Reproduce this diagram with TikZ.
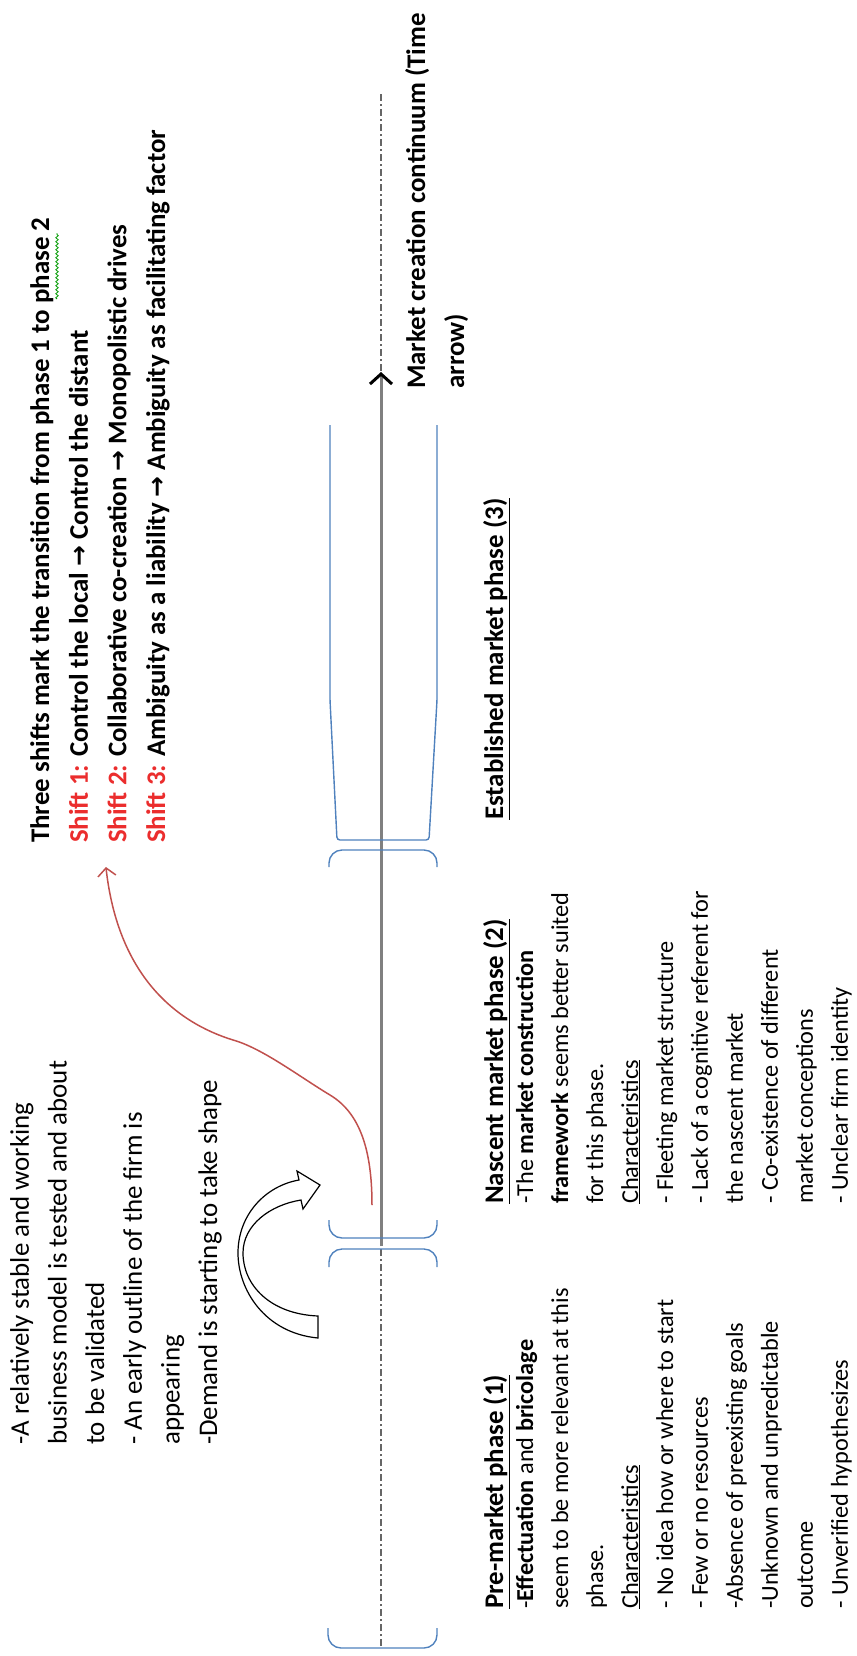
\documentclass[tikz,border=0pt]{standalone}
\usepackage{fontspec}
\setmainfont{Carlito}
\newfontfamily\arrowfont{DejaVu Sans}
\usepackage{xcolor}
\usetikzlibrary{arrows.meta,decorations.pathmorphing,calc}

\definecolor{bracketblue}{RGB}{79,129,189}
\definecolor{curvered}{RGB}{192,80,77}
\definecolor{shiftred}{RGB}{235,45,45}
\newcommand{\goesto}{{\arrowfont\bfseries\fontsize{25}{25}\selectfont →}}
\newcommand{\phasehead}[1]{{\bfseries\fontsize{27}{27}\selectfont\underline{#1}}}

\begin{document}
\begin{tikzpicture}[x=1bp,y=-1bp,
    bracket/.style={draw=bracketblue, line width=1.4bp, rounded corners=13bp},
    axisdash/.style={draw=gray!80!black, line width=2.5bp, dash pattern=on 7bp off 3bp on 2bp off 3bp},
    axisline/.style={draw=gray, line width=3bp, -{Straight Barb[length=10bp,width=22bp,line width=3bp,black]}},
    textblock/.style={rotate=90, anchor=north west, align=left, inner sep=0pt},
    uturn/.style={draw=black, fill=white, line width=1.2bp},
    shiftarrow/.style={draw=curvered, line width=1.5bp, -{Straight Barb[length=8bp,width=18bp]}}]

    % page
    \useasboundingbox (0,0) rectangle (856,1656);

    % time axis
    \coordinate (axisbot) at (381,1646);
    \coordinate (axistop) at (381,93);
    \coordinate (solidstart) at (381,1246);
    \coordinate (arrowtip) at (381,372);
    \draw[axisdash] (axisbot) -- (axistop);
    \draw[axisline] (solidstart) -- (arrowtip);

    % phase brackets
    \draw[bracket] (328,1628) -- (328,1648) -- (437,1648) -- (437,1628);
    \draw[bracket] (329,1267) -- (329,1249) -- (437,1249) -- (437,1267);
    \draw[bracket] (329,1220) -- (329,1238) -- (437,1238) -- (437,1220);
    \draw[bracket] (329,867) -- (329,850) -- (437,850) -- (437,867);
    \draw[bracket, rounded corners=3bp] (330,425) -- (330,700) -- (337,840) -- (429,840) -- (437,700) -- (437,425);

    % texts above the axis
    \node[textblock, font=\fontsize{27}{37.8}\selectfont] (stable) at (10,1445)
        {-A relatively stable and working\\
         business model is tested and about\\
         to be validated\\
         - An early outline of the firm is\\
         appearing\\
         -Demand is starting to take shape};

    \node[textblock, font=\bfseries\fontsize{27}{38.8}\selectfont] (shifts) at (30,843)
        {Three shifts mark the transition from phase 1 to phase 2\\
         \textcolor{shiftred}{Shift 1:} Control the local \goesto{} Control the distant\\
         \textcolor{shiftred}{Shift 2:} Collaborative co-creation \goesto{} Monopolistic drives\\
         \textcolor{shiftred}{Shift 3:} Ambiguity as a liability \goesto{} Ambiguity as facilitating factor};
    \draw[green!60!black, line width=0.8bp, decorate, decoration={snake, amplitude=1.2bp, segment length=4bp}]
        (57,299) -- (57,233);

    % texts below the axis
    \node[textblock, font=\fontsize{24.4}{35.1}\selectfont] (premarket) at (483,1609)
        {\phasehead{Pre-market phase (1)}\\[-5bp]
         -\textbf{Effectuation} and \textbf{bricolage}\\
         seem to be more relevant at this\\
         phase.\\
         \underline{Characteristics}\\
         - No idea how or where to start\\
         - Few or no resources\\
         -Absence of preexisting goals\\
         -Unknown and unpredictable\\
         outcome\\
         - Unverified hypothesizes};

    \node[textblock, font=\fontsize{24.4}{35.1}\selectfont] (nascent) at (483,1204)
        {\phasehead{Nascent market phase (2)}\\[-5bp]
         -The \textbf{market construction}\\
         \textbf{framework} seems better suited\\
         for this phase.\\
         \underline{Characteristics}\\
         - Fleeting market structure\\
         - Lack of a cognitive referent for\\
         the nascent market\\
         - Co-existence of different\\
         market conceptions\\
         - Unclear firm identity};

    \node[textblock] (established) at (483,820)
        {\phasehead{Established market phase (3)}};

    \node[textblock, font=\bfseries\fontsize{27}{39}\selectfont] (timelabel) at (405,389)
        {Market creation continuum (Time\\
         arrow)};

    % u-turn block arrow
    \draw[uturn] (318,1338) .. controls (265,1333) and (238,1290) .. (238,1253)
        .. controls (238,1215) and (265,1186) .. (299,1180)
        -- (297,1171) -- (320,1185) -- (303,1209) -- (301,1200)
        .. controls (270,1205) and (243,1225) .. (243,1253)
        .. controls (243,1285) and (270,1314) .. (318,1316) -- cycle;

    % transition arrow to the shifts
    \coordinate (redtail) at (372,1205);
    \coordinate (redhead) at ($(shifts.west)+(6,24)$);
    \draw[shiftarrow] (redtail) .. controls (372,1150) and (360,1113) .. (330,1095)
        .. controls (300,1077) and (262,1048) .. (233,1040)
        .. controls (175,1022) and (118,975) .. (redhead);
\end{tikzpicture}
\end{document}
